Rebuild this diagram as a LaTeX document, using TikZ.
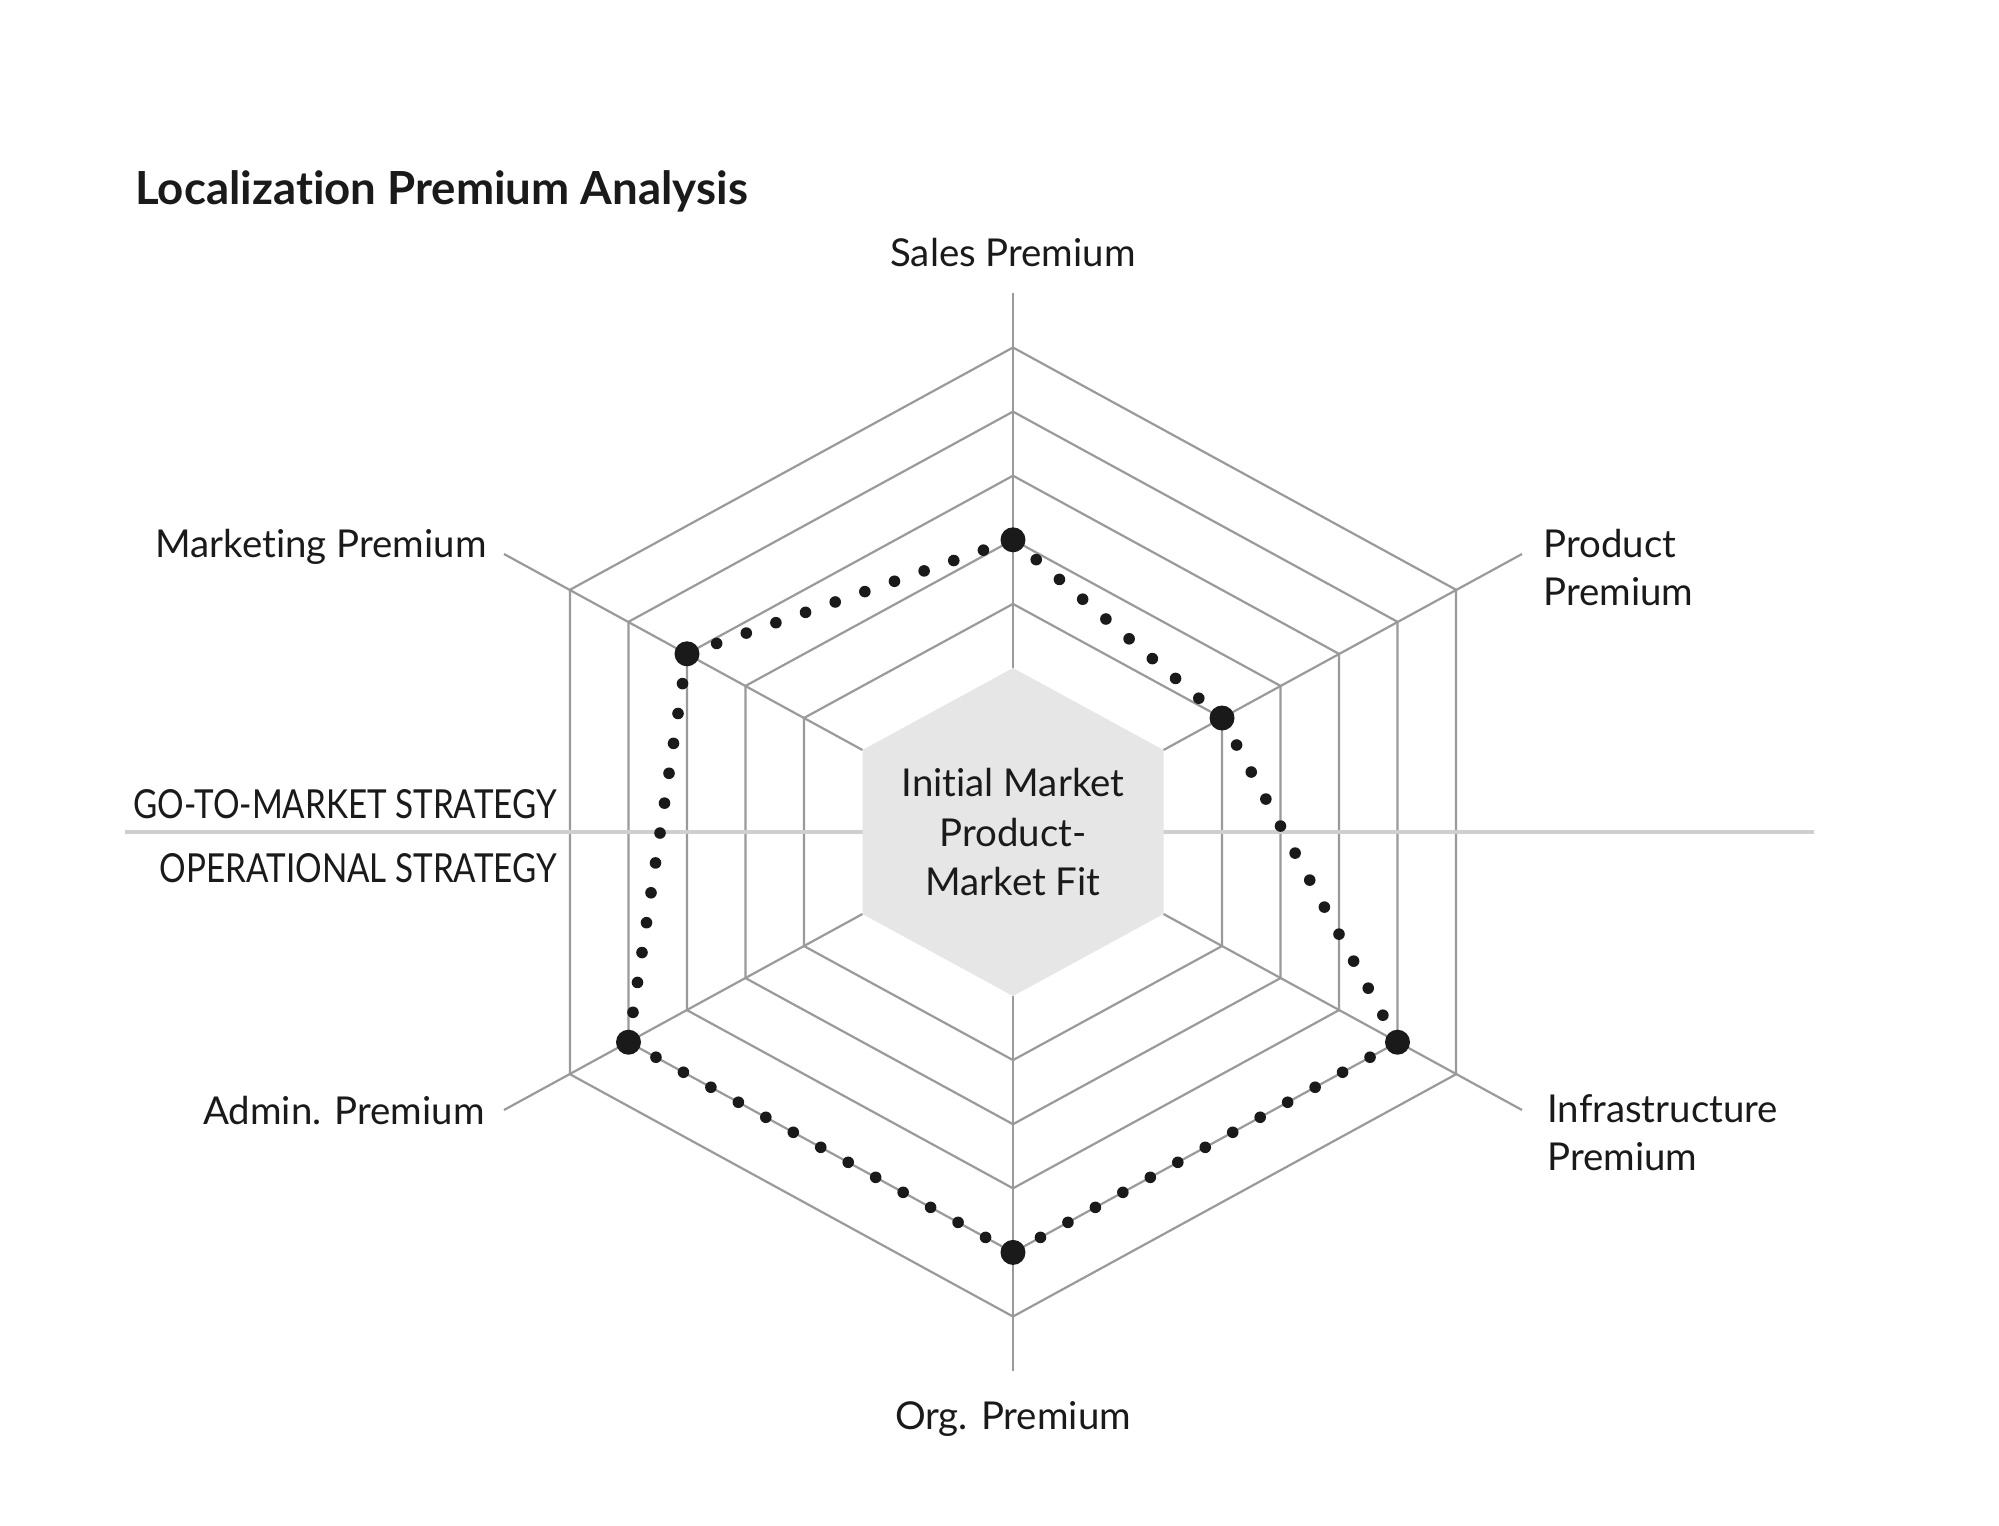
\documentclass[tikz,border=0pt]{standalone}
\usepackage{fontspec}
\setmainfont{Lato}[Ligatures=NoCommon]
\newfontfamily\capsfont[FakeStretch=0.83,Ligatures=NoCommon]{Lato}
\definecolor{ink}{HTML}{1A1A1A}
\definecolor{gridgray}{HTML}{9A9A9A}
\definecolor{divgray}{HTML}{CFCFCF}
\definecolor{corefill}{HTML}{E6E6E6}
\begin{document}
\begin{tikzpicture}[x=0.5pt,y=-0.5pt,
  grid/.style={draw=gridgray,line width=1.1pt},
  divider/.style={draw=divgray,line width=2.3pt},
  dotline/.style={draw=ink,line width=5.8pt,line cap=round},
  bigdot/.style={circle,fill=ink,inner sep=0pt,minimum size=12.5pt},
  lbl/.style={inner sep=0pt,text=ink,font=\fontsize{19.2}{24}\selectfont},
  caps/.style={inner sep=0pt,text=ink,font=\capsfont\fontsize{20}{24}\selectfont},
  titlefont/.style={inner sep=0pt,text=ink,font=\bfseries\fontsize{22.8}{28}\selectfont}
  ]
\fill[white] (0,0) rectangle (1999,1526);
\useasboundingbox (0,0) rectangle (1999,1526);

% rings
\foreach \k in {1,...,5}{
  \pgfmathsetmacro{\r}{164+64.1*\k}
  \pgfmathsetmacro{\w}{150.5+58.5*\k}
  \draw[grid] (1013,{832-\r}) -- ({1013+\w},{832-\r/2}) -- ({1013+\w},{832+\r/2})
    -- (1013,{832+\r}) -- ({1013-\w},{832+\r/2}) -- ({1013-\w},{832-\r/2}) -- cycle;
}

% center hexagon vertices
\coordinate (h0) at (1013,668);
\coordinate (h1) at (1163.5,750);
\coordinate (h2) at (1163.5,914);
\coordinate (h3) at (1013,996);
\coordinate (h4) at (862.5,914);
\coordinate (h5) at (862.5,750);

% axis ends
\coordinate (a0) at (1013,293);
\coordinate (a1) at (1522,554);
\coordinate (a2) at (1522,1110);
\coordinate (a3) at (1013,1371);
\coordinate (a4) at (504,1110);
\coordinate (a5) at (504,554);

\draw[grid] (h0) -- (a0);
\draw[grid] (h1) -- (a1);
\draw[grid] (h2) -- (a2);
\draw[grid] (h3) -- (a3);
\draw[grid] (h4) -- (a4);
\draw[grid] (h5) -- (a5);

% divider
\coordinate (dL) at (125,832);
\coordinate (dR) at (1814,832);
\draw[divider] (dL) -- (dR);

% core hexagon
\fill[corefill] (h0) -- (h1) -- (h2) -- (h3) -- (h4) -- (h5) -- cycle;
\node[lbl,anchor=base,font=\fontsize{19.2}{24.75}\selectfont] (core) at (1013,796.7)
  {\begin{tabular}[t]{@{}c@{}}Initial Market\\Product-\\Market Fit\end{tabular}};

% data points
\node[bigdot] (pS) at (1013,539.8) {};
\node[bigdot] (pP) at (1222,718) {};
\node[bigdot] (pI) at (1397.5,1042.2) {};
\node[bigdot] (pO) at (1013,1252.4) {};
\node[bigdot] (pA) at (628.5,1042.2) {};
\node[bigdot] (pM) at (687,653.8) {};

\draw[dotline,dash pattern=on 0pt off 15.26pt] (pS.center) -- (pP.center);
\draw[dotline,dash pattern=on 0pt off 15.36pt] (pP.center) -- (pI.center);
\draw[dotline,dash pattern=on 0pt off 15.65pt] (pI.center) -- (pO.center);
\draw[dotline,dash pattern=on 0pt off 15.65pt] (pO.center) -- (pA.center);
\draw[dotline,dash pattern=on 0pt off 15.11pt] (pA.center) -- (pM.center);
\draw[dotline,dash pattern=on 0pt off 15.70pt] (pM.center) -- (pS.center);

% labels
\node[titlefont,anchor=base west] (title) at (135,204) {Localization Premium Analysis};
\node[lbl,anchor=base] (sales) at (1013,266.7) {Sales Premium};
\node[lbl,anchor=base west] (product) at (1543,557.7)
  {\begin{tabular}[t]{@{}l@{}}Product\\Premium\end{tabular}};
\node[lbl,anchor=base west] (infra) at (1547,1122.3)
  {\begin{tabular}[t]{@{}l@{}}Infrastructure\\Premium\end{tabular}};
\node[lbl,anchor=base] (org) at (1013,1429) {Org. Premium};
\node[lbl,anchor=base east] (admin) at (485,1124.3) {Admin. Premium};
\node[lbl,anchor=base east] (mkt) at (487,557.7) {Marketing Premium};
\node[caps,anchor=base east] (gtm) at (557,818) {GO-TO-MARKET STRATEGY};
\node[caps,anchor=base east] (ops) at (557,882.7) {OPERATIONAL STRATEGY};
\end{tikzpicture}
\end{document}
